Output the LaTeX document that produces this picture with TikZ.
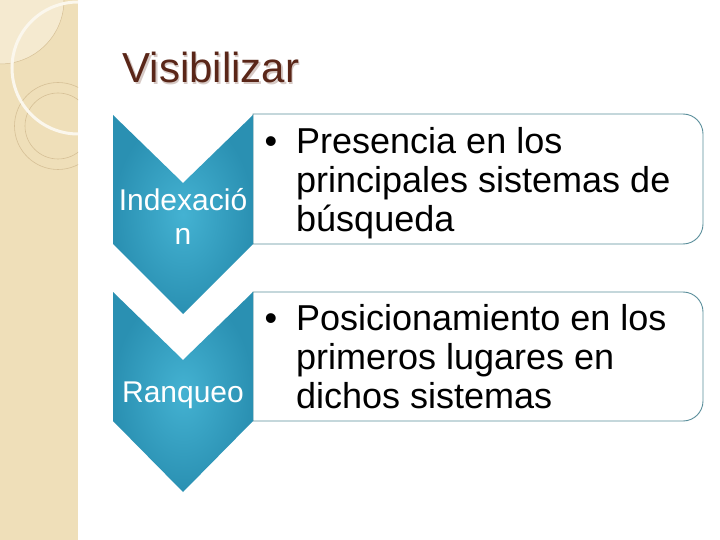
\documentclass[tikz,border=0pt]{standalone}
\usepackage{fontspec}
\setmainfont{Liberation Sans}
\definecolor{stripbg}{RGB}{239,223,185}
\definecolor{stripfaint}{RGB}{245,234,208}
\definecolor{stripline}{RGB}{214,192,150}
\definecolor{titlebrown}{RGB}{90,38,24}
\definecolor{chevlight}{RGB}{68,178,210}
\definecolor{chevdark}{RGB}{42,144,178}
\definecolor{boxline}{RGB}{90,142,155}

\begin{document}
\begin{tikzpicture}[x=1pt,y=-1pt,
  chevron/.style={inner color=chevlight, outer color=chevdark},
  chevlabel/.style={text=white, inner sep=0pt, align=center,
    font=\fontsize{30}{34}\selectfont},
  itembox/.style={draw=boxline, line width=0.9pt, fill=white},
  itemtext/.style={anchor=west, inner sep=0pt, align=left,
    font=\fontsize{36}{39}\selectfont}]
\useasboundingbox (0,0) rectangle (720,540);
\fill[white] (0,0) rectangle (720,540);

\fill[stripbg] (0,0) rectangle (78,540);
\begin{scope}
\clip (0,0) rectangle (78,540);
\fill[stripfaint] (0,0) -- (64,0) arc[start angle=0, end angle=90, radius=64] -- cycle;
\draw[stripline, line width=0.5pt] (64,0) arc[start angle=0, end angle=90, radius=64];
\draw[stripline, line width=0.6pt] (58,126) circle[radius=43.5];
\draw[stripline, line width=0.6pt] (58,126) circle[radius=33];
\draw[white!75!stripbg, line width=3pt] (78,68) circle[radius=66];
\end{scope}

\node[anchor=base west, text=titlebrown!25, font=\fontsize{42}{48}\selectfont] at (120.5,84.5) {Visibilizar};
\node[anchor=base west, text=titlebrown, font=\fontsize{42}{48}\selectfont] (title) at (119,83) {Visibilizar};

\draw[itembox] (253,114) -- (683,114) arc[start angle=-90, end angle=0, radius=20]
  -- (703,224) arc[start angle=0, end angle=90, radius=20] -- (253,244) -- cycle;
\draw[itembox] (253,292) -- (683,292) arc[start angle=-90, end angle=0, radius=20]
  -- (703,401) arc[start angle=0, end angle=90, radius=20] -- (253,421) -- cycle;

\shade[chevron] (113,115) -- (183,183) -- (253,115) -- (253,244) -- (183,314) -- (113,244) -- cycle;
\shade[chevron] (113,292) -- (183,360) -- (253,292) -- (253,421) -- (183,492) -- (113,421) -- cycle;

\node[chevlabel] (indexa) at (183,216) {Indexació\\n};
\node[chevlabel, anchor=base] (ranqueo) at (183,402) {Ranqueo};

\node[itemtext] (presencia) at (296,183) {\llap{•\hspace{19pt}}Presencia en los\\principales sistemas de\\búsqueda};
\node[itemtext] (posicion) at (296,357) {\llap{•\hspace{19pt}}Posicionamiento en los\\primeros lugares en\\dichos sistemas};
\end{tikzpicture}
\end{document}
